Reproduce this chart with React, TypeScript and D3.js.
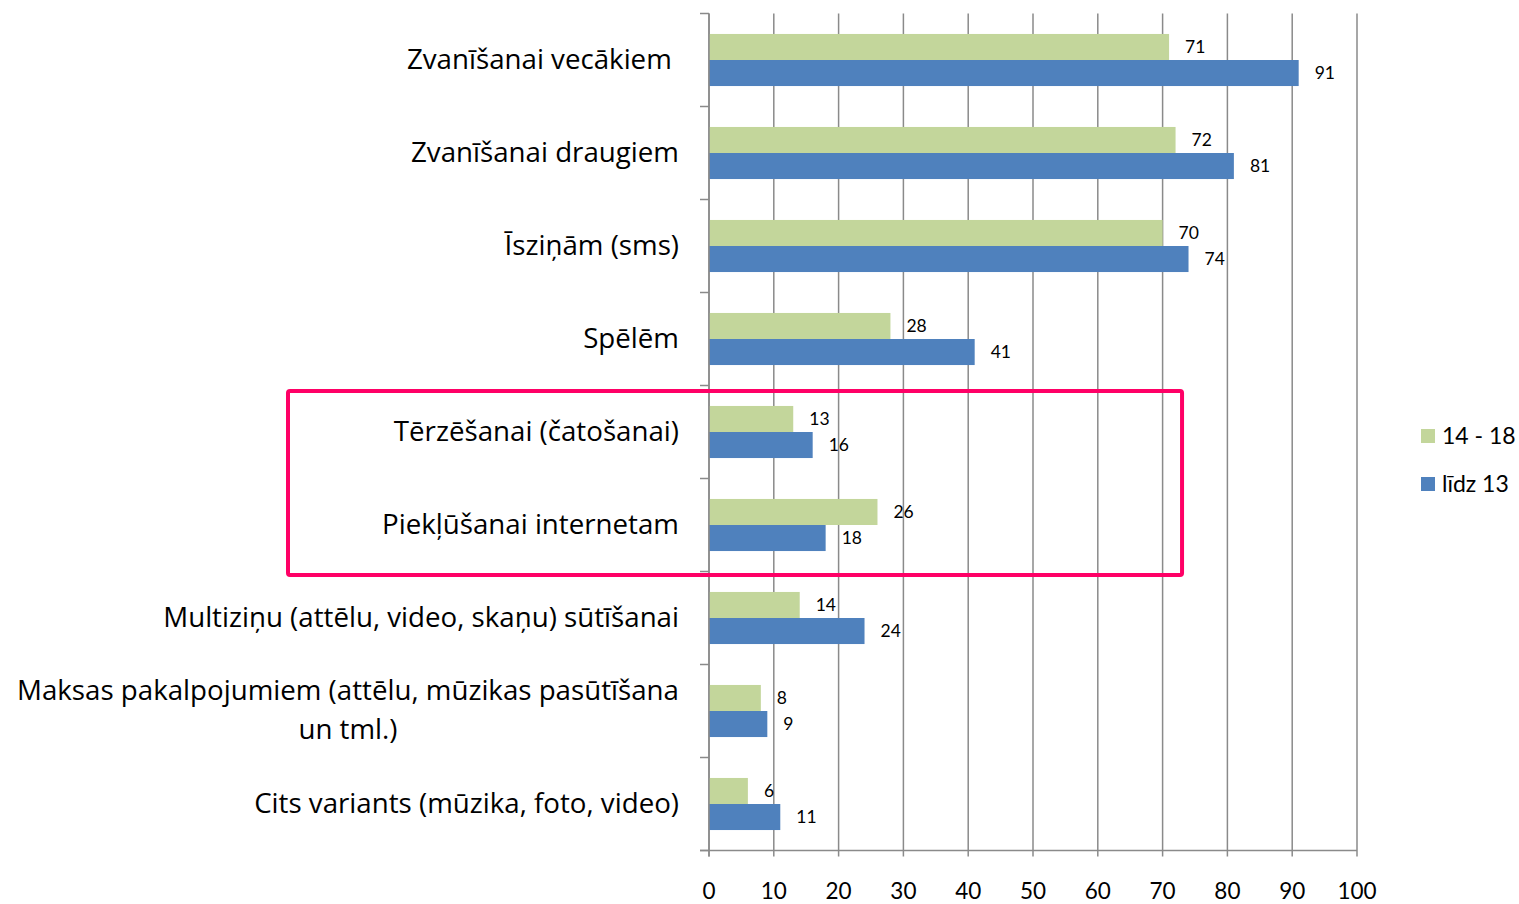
import React, { useEffect, useRef } from "react";
import * as d3 from "d3";

const categories: string[][] = [
  ["Zvanīšanai vecākiem "],
  ["Zvanīšanai draugiem"],
  ["Īsziņām (sms)"],
  ["Spēlēm"],
  ["Tērzēšanai (čatošanai)"],
  ["Piekļūšanai internetam"],
  ["Multiziņu (attēlu, video, skaņu) sūtīšanai"],
  ["Maksas pakalpojumiem (attēlu, mūzikas pasūtīšana", "un tml.)"],
  ["Cits variants (mūzika, foto, video)"],
];
const series1418: number[] = [71, 72, 70, 28, 13, 26, 14, 8, 6];
const seriesLidz13: number[] = [91, 81, 74, 41, 16, 18, 24, 9, 11];
const seriesNames: string[] = ["14 - 18", "līdz 13"];
const xTicks: number[] = [0, 10, 20, 30, 40, 50, 60, 70, 80, 90, 100];
const highlighted: number[] = [4, 5];

const GREEN = "#c3d69b";
const BLUE = "#4f81bd";
const GRID = "#8a8a8a";
const FONT = "Lato, 'Open Sans', sans-serif";
const CAT_FONT = "'Open Sans', Lato, sans-serif";

export default function App() {
  const ref = useRef<SVGSVGElement | null>(null);

  useEffect(() => {
    const svg = d3.select(ref.current);
    svg.selectAll("*").remove();

    const left = 709, right = 1357, top = 13.5, bottom = 850.5;
    const x = d3.scaleLinear().domain([0, 100]).range([left, right]);
    const y = d3
      .scaleBand<number>()
      .domain(d3.range(categories.length))
      .range([top, bottom])
      .paddingInner(0.44)
      .paddingOuter(0.22);
    const step = y.step();
    const bandStart = (i: number) => top + i * step;

    // gridlines
    svg
      .append("g")
      .selectAll("line")
      .data(xTicks)
      .join("line")
      .attr("x1", (d) => x(d))
      .attr("x2", (d) => x(d))
      .attr("y1", top)
      .attr("y2", bottom + 6)
      .attr("stroke", GRID)
      .attr("stroke-width", 1.5);

    // y axis ticks
    svg
      .append("g")
      .selectAll("line")
      .data(d3.range(categories.length + 1))
      .join("line")
      .attr("x1", left - 9)
      .attr("x2", left)
      .attr("y1", (i) => bandStart(i))
      .attr("y2", (i) => bandStart(i))
      .attr("stroke", GRID)
      .attr("stroke-width", 1.5);

    // bars
    const barH = y.bandwidth() / 2;
    const bars = svg.append("g");
    categories.forEach((_, i) => {
      const y0 = y(i)!;
      bars
        .append("rect")
        .attr("x", x(0))
        .attr("y", y0)
        .attr("width", x(series1418[i]) - x(0))
        .attr("height", barH)
        .attr("fill", GREEN);
      bars
        .append("rect")
        .attr("x", x(0))
        .attr("y", y0 + barH)
        .attr("width", x(seriesLidz13[i]) - x(0))
        .attr("height", barH)
        .attr("fill", BLUE);
    });

    // axes lines
    svg
      .append("line")
      .attr("x1", left)
      .attr("x2", left)
      .attr("y1", top)
      .attr("y2", bottom + 6)
      .attr("stroke", GRID)
      .attr("stroke-width", 1.5);
    svg
      .append("line")
      .attr("x1", left - 9)
      .attr("x2", right)
      .attr("y1", bottom)
      .attr("y2", bottom)
      .attr("stroke", GRID)
      .attr("stroke-width", 1.5);

    // value labels
    const vl = svg.append("g").attr("font-family", FONT).attr("font-size", 17.5).attr("fill", "#000");
    categories.forEach((_, i) => {
      const y0 = y(i)!;
      vl.append("text")
        .attr("x", x(series1418[i]) + 16)
        .attr("y", y0 + barH / 2)
        .attr("dy", "0.35em")
        .text(String(series1418[i]));
      vl.append("text")
        .attr("x", x(seriesLidz13[i]) + 16)
        .attr("y", y0 + barH * 1.5)
        .attr("dy", "0.35em")
        .text(String(seriesLidz13[i]));
    });

    // x tick labels
    svg
      .append("g")
      .attr("font-family", FONT)
      .attr("font-size", 22.5)
      .attr("text-anchor", "middle")
      .selectAll("text")
      .data(xTicks)
      .join("text")
      .attr("x", (d) => x(d))
      .attr("y", 899)
      .text((d) => String(d));

    // category labels
    const cl = svg.append("g").attr("font-family", CAT_FONT).attr("font-size", 27.7).attr("fill", "#000");
    const labelRight = 679;
    const lineH = 39;
    categories.forEach((lines, i) => {
      const cy = y(i)! + y.bandwidth() / 2;
      const t = cl
        .append("text")
        .attr("y", cy - ((lines.length - 1) * lineH) / 2)
        .style("white-space", "pre");
      if (lines.length === 1) {
        t.attr("x", labelRight).attr("dy", "0.33em").attr("text-anchor", "end").text(lines[0]);
      } else {
        const tmp = cl.append("text").text(lines[0]);
        const w = (tmp.node() as SVGTextElement).getComputedTextLength();
        tmp.remove();
        const cx = labelRight - w / 2;
        t.attr("x", cx).attr("text-anchor", "middle");
        lines.forEach((ln, k) => {
          t.append("tspan")
            .attr("x", cx)
            .attr("dy", k === 0 ? "0.3em" : lineH)
            .text(ln);
        });
      }
    });

    // highlight rectangle
    const h0 = bandStart(highlighted[0]);
    const h1 = bandStart(highlighted[highlighted.length - 1] + 1);
    svg
      .append("rect")
      .attr("x", 288)
      .attr("y", h0 + 5.5)
      .attr("width", x(73) - 288)
      .attr("height", h1 - h0 - 2)
      .attr("rx", 2)
      .attr("fill", "none")
      .attr("stroke", "#ff0066")
      .attr("stroke-width", 4);

    // legend
    const lg = svg.append("g").attr("font-family", FONT).attr("font-size", 23);
    [GREEN, BLUE].forEach((c, k) => {
      const ly = 436 + k * 48;
      lg.append("rect").attr("x", 1421).attr("y", ly - 7).attr("width", 14).attr("height", 14).attr("fill", c);
      lg.append("text").attr("x", 1442).attr("y", ly).attr("dy", "0.35em").text(seriesNames[k]);
    });
  }, []);

  return (
    <svg
      ref={ref}
      width={1519}
      height={904}
      style={{ position: "absolute", left: 0, top: 0, background: "#fff" }}
    />
  );
}
